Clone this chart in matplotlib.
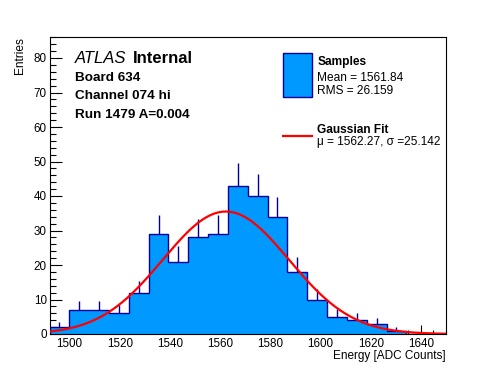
import numpy as np
import matplotlib
matplotlib.use("Agg")
import matplotlib.pyplot as plt
from matplotlib.patches import Rectangle
from matplotlib.lines import Line2D
from matplotlib.ticker import MultipleLocator

plt.rcParams['font.family'] = ['Liberation Sans', 'DejaVu Sans']

# ---- data ----
bin_low = 1492.0
bin_high = 1650.0
counts = [2, 7, 7, 6, 12, 29, 21, 28, 29, 43, 40, 34, 18, 10, 5, 4, 3, 1, 0, 0]
fit_mu = 1562.27
fit_sigma = 25.142
fit_amp = 35.5
y_max = 86
x_ticks = [1500, 1520, 1540, 1560, 1580, 1600, 1620, 1640]
y_ticks = [0, 10, 20, 30, 40, 50, 60, 70, 80]

title_lines = ["Board 634", "Channel 074 hi", "Run 1479 A=0.004"]
legend_hist = ["Samples", "Mean = 1561.84", "RMS = 26.159"]
legend_fit = ["Gaussian Fit", "\u03bc = 1562.27, \u03c3 =25.142"]

fill_c = '#0099ff'
edge_c = '#000099'

W, H = 496, 372
fig = plt.figure(figsize=(W / 100, H / 100), dpi=100)
L, R, T, B = 49.5, 446, 37.3, 334
ax = fig.add_axes([L / W, 1 - B / H, (R - L) / W, (B - T) / H])

def fx(px):
    return px / W

def fy(py):
    return 1 - py / H

counts = np.array(counts, dtype=float)
edges = np.linspace(bin_low, bin_high, len(counts) + 1)
centers = 0.5 * (edges[:-1] + edges[1:])

nz = counts > 0
ax.errorbar(centers[nz], counts[nz], yerr=np.sqrt(counts[nz]), fmt='none',
            ecolor=edge_c, elinewidth=1.0, capsize=0, zorder=1)
ax.stairs(counts, edges, fill=True, color=fill_c, zorder=2)
ax.stairs(counts, edges, fill=False, color=edge_c, linewidth=1.0, baseline=0, zorder=3)

xf = np.linspace(bin_low, bin_high, 400)
yf = fit_amp * np.exp(-0.5 * ((xf - fit_mu) / fit_sigma) ** 2)
ax.plot(xf, yf, color='red', linewidth=1.6, zorder=4)

ax.set_xlim(bin_low, bin_high)
ax.set_ylim(0, y_max)
ax.set_xticks(x_ticks)
ax.set_yticks(y_ticks)
ax.xaxis.set_minor_locator(MultipleLocator(5))
ax.yaxis.set_minor_locator(MultipleLocator(2))
ax.tick_params(axis='both', which='both', direction='in', top=False, right=False,
               labelsize=8.4, width=0.8)
ax.tick_params(axis='x', which='major', length=6.7, pad=3)
ax.tick_params(axis='x', which='minor', length=3.2)
ax.tick_params(axis='y', which='major', length=8.6, pad=2)
ax.tick_params(axis='y', which='minor', length=4.3)
for s in ax.spines.values():
    s.set_linewidth(0.8)

fig.text(fx(446), fy(359), "Energy [ADC Counts]", ha='right', va='baseline', fontsize=8.5)
fig.text(fx(20), fy(37), "Entries", ha='right', va='center', rotation=90,
         fontsize=8.6, rotation_mode='anchor')

# ATLAS label
fig.text(fx(75), fy(62.7), "ATLAS", fontstyle='italic', fontsize=12, va='baseline', ha='left')
fig.text(fx(133), fy(62.7), "Internal", fontweight='bold', fontsize=12, va='baseline', ha='left')
for txt, yb in zip(title_lines, [80.7, 99.3, 118.3]):
    fig.text(fx(75), fy(yb), txt, fontweight='bold', fontsize=9.7, va='baseline', ha='left')

# legend
fig.patches.append(Rectangle((fx(283.3), fy(96.7)), fx(311.7) - fx(283.3), fy(53.3) - fy(96.7),
                             transform=fig.transFigure, facecolor=fill_c, edgecolor=edge_c,
                             linewidth=1.0))
fig.text(fx(317.3), fy(64.7), legend_hist[0], fontweight='bold', fontsize=8.6, va='baseline')
fig.text(fx(317.3), fy(80.7), legend_hist[1], fontsize=8.6, va='baseline')
fig.text(fx(317.3), fy(94.0), legend_hist[2], fontsize=8.6, va='baseline')
fig.lines.append(Line2D([fx(283.3), fx(311.7)], [fy(136), fy(136)], transform=fig.transFigure,
                        color='red', linewidth=1.6))
fig.text(fx(317.3), fy(132.7), legend_fit[0], fontweight='bold', fontsize=8.6, va='baseline')
fig.text(fx(317.3), fy(145.5), legend_fit[1], fontsize=8.6, va='baseline')

fig.savefig("out.png", dpi=100)
